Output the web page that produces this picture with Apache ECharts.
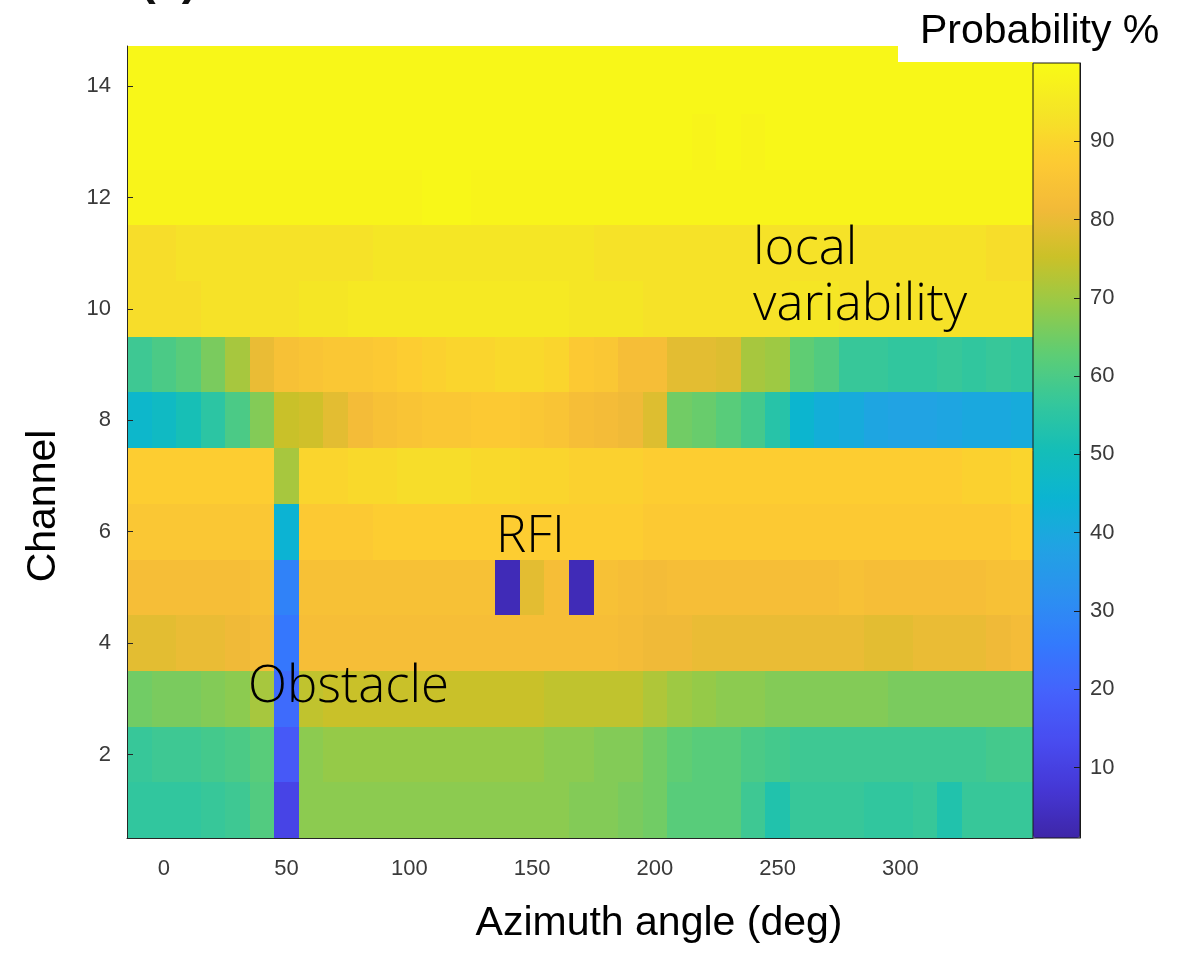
<!DOCTYPE html>
<html>
<head>
<meta charset="utf-8">
<script src="https://cdn.jsdelivr.net/npm/echarts@6/dist/echarts.min.js"></script>
<style>
  html, body { margin: 0; padding: 0; background: #ffffff; }
  #chart { width: 1195px; height: 953px; }
</style>
</head>
<body>
<div id="chart"></div>
<script>
// Azimuth bin centres (deg), 10-degree bins
const azimuth = [-10, 0, 10, 20, 30, 40, 50, 60, 70, 80, 90, 100, 110, 120, 130, 140, 150, 160, 170,
                 180, 190, 200, 210, 220, 230, 240, 250, 260, 270, 280, 290, 300, 310, 320, 330, 340, 350];
const channels = [1, 2, 3, 4, 5, 6, 7, 8, 9, 10, 11, 12, 13, 14];

// Detection probability (%) per channel, one value per azimuth bin
const ch01 = [56,56,56,57,58,61,11,68,68,68,68,68,68,68,68,68,68,68,67,67,66,65,62,62,62,58,53,57,57,57,56,56,57,53,57,57,57];
const ch02 = [57,58,58,59,60,62,17,68,69,69,69,69,69,69,69,69,69,68,68,67,67,65,63,62,62,60,59,58,58,58,58,58,58,58,58,59,59];
const ch03 = [65,66,66,67,68,71,22,74,75,75,75,75,75,75,75,75,75,74,74,74,74,72,70,69,68,68,67,67,67,67,67,66,66,66,66,66,66];
const ch04 = [79,79,80,80,81,82,25,83,83,83,83,83,83,83,83,83,83,83,83,83,82,81,81,80,80,80,80,80,80,80,79,79,80,80,80,81,82];
const ch05 = [83,83,83,83,83,84,28,84,84,84,84,84,84,84,84,3,79,83,3,84,83,82,83,83,83,83,83,83,83,84,83,83,83,83,83,84,84];
const ch06 = [86,86,86,86,86,86,44,87,87,87,88,88,88,88,88,88,88,88,88,88,88,87,87,87,87,87,87,87,87,87,87,87,87,87,87,87,88];
const ch07 = [88,88,88,88,88,88,71,90,90,91,91,92,92,92,91,91,90,90,89,89,89,88,88,88,88,88,88,88,88,88,88,88,88,88,89,89,90];
const ch08 = [46,48,51,55,60,67,75,76,79,82,84,85,86,86,87,87,86,85,83,82,81,78,65,64,62,59,54,45,42,41,39,38,38,39,40,40,41];
const ch09 = [58,60,62,66,71,80,84,85,86,86,87,88,89,90,90,91,91,90,87,86,83,83,79,79,78,71,70,63,61,57,57,56,56,57,56,57,56];
const ch10 = [92,92,92,93,93,93,93,94,94,95,95,95,95,95,95,95,95,95,94,94,94,93,93,93,93,93,93,94,94,93,93,93,93,93,93,93,93];
const ch11 = [92,92,93,93,93,93,93,93,93,93,94,94,94,94,94,94,94,94,94,93,93,93,93,93,93,93,93,93,93,93,93,93,93,93,93,92,92];
const ch12 = [98,98,98,98,98,98,98,98,98,98,98,98,99,99,98,98,98,98,98,98,98,98,98,98,98,98,98,98,98,98,98,98,98,98,98,98,98];
const ch13 = [99,99,99,99,99,99,99,99,99,99,99,99,99,99,99,99,99,99,99,99,99,99,99,98,99,98,99,99,99,99,99,99,99,99,99,99,99];
const ch14 = [99,99,99,99,99,99,99,99,99,99,99,99,99,99,99,99,99,99,99,99,99,99,99,99,99,99,99,99,99,99,99,99,99,99,99,99,99];
const probabilityRows = [ch01, ch02, ch03, ch04, ch05, ch06, ch07, ch08, ch09, ch10, ch11, ch12, ch13, ch14];

const xTicks = [0, 50, 100, 150, 200, 250, 300];
const yTicks = [2, 4, 6, 8, 10, 12, 14];
const colorbarTicks = [10, 20, 30, 40, 50, 60, 70, 80, 90];

// parula colour map
const parula = ['#3E26A8', '#4537D5', '#484CF0', '#4562FC', '#337AFD', '#2C90F0', '#21A3E3', '#0BB4D2',
                '#14BEB8', '#35C79B', '#5ECD74', '#96CA48', '#CBC128', '#F3BA39', '#FDCB32', '#F5E526', '#F9FB15'];

const cells = [];
channels.forEach((ch, i) => {
  probabilityRows[i].forEach((v, j) => cells.push([azimuth[j], ch, v]));
});

const binHalf = 5;
const topChannel = channels[channels.length - 1];

function renderCell(params, api) {
  const az = api.value(0);
  const ch = api.value(1);
  const cs = params.coordSys;
  const a = api.coord([az - binHalf, ch + 0.5]);
  const b = api.coord([az + binHalf, ch - 0.5]);
  const left = Math.max(Math.round(a[0]), cs.x);
  const right = Math.min(Math.round(b[0]), cs.x + cs.width);
  // the highest channel fills the plot up to its top edge
  const top = ch === topChannel ? cs.y : Math.round(a[1]);
  const bottom = Math.round(b[1]);
  return {
    type: 'rect',
    shape: { x: left, y: top, width: right - left, height: bottom - top },
    style: { fill: api.visual('color') }
  };
}

const tickFont = { fontFamily: 'Liberation Sans, Arial, sans-serif', fontSize: 22, color: '#3a3a3a' };
const noteFont = '300 51px Open Sans, Noto Sans, sans-serif';
const titleFont = '41px Liberation Sans, Arial, sans-serif';

const chart = echarts.init(document.getElementById('chart'), null, { renderer: 'canvas' });
chart.setOption({
  animation: false,
  backgroundColor: '#ffffff',
  grid: [
    { left: 127, top: 46, width: 906, height: 792, containLabel: false },
    { left: 1033, top: 63, width: 47, height: 775, show: true, backgroundColor: 'transparent',
      borderColor: '#1a1a1a', borderWidth: 1, z: 5 }
  ],
  xAxis: [
    {
      type: 'value', gridIndex: 0, min: -15, max: 354, z: 10,
      axisLine: { show: true, onZero: false, lineStyle: { color: '#262626', width: 1 } },
      axisTick: { show: false },
      splitLine: { show: false },
      axisLabel: Object.assign({ customValues: xTicks, margin: 20 }, tickFont)
    },
    { type: 'value', gridIndex: 1, min: 0, max: 1, show: false }
  ],
  yAxis: [
    {
      type: 'value', gridIndex: 0, min: 0.5, max: 14.72, z: 10,
      axisLine: { show: true, onZero: false, lineStyle: { color: '#262626', width: 1 } },
      axisTick: { show: true, inside: true, length: 6, customValues: yTicks, lineStyle: { color: '#262626' } },
      splitLine: { show: false },
      axisLabel: Object.assign({ customValues: yTicks, margin: 16 }, tickFont)
    },
    {
      type: 'value', gridIndex: 1, min: 1, max: 100, position: 'right', z: 10,
      axisLine: { show: true, onZero: false, lineStyle: { color: '#1a1a1a', width: 1 } },
      axisTick: { show: true, inside: true, length: 6, customValues: colorbarTicks, lineStyle: { color: '#1a1a1a' } },
      splitLine: { show: false },
      axisLabel: Object.assign({ customValues: colorbarTicks, margin: 10 }, tickFont)
    }
  ],
  visualMap: {
    type: 'continuous', min: 1, max: 100, dimension: 2, seriesIndex: 0,
    orient: 'vertical', left: 1033, top: 63, itemWidth: 47, itemHeight: 775,
    padding: 0, calculable: false, hoverLink: false, text: null, z: 1,
    inRange: { color: parula }
  },
  series: [
    {
      type: 'custom', name: 'Probability', coordinateSystem: 'cartesian2d',
      xAxisIndex: 0, yAxisIndex: 0, silent: true, clip: true,
      renderItem: renderCell,
      encode: { x: 0, y: 1 },
      data: cells
    }
  ],
  graphic: [
    { type: 'text', left: 140, top: -42, z: 20,
      style: { text: '(c)', font: 'bold 47px Liberation Sans, Arial, sans-serif', fill: '#111' } },
    { type: 'rect', shape: { x: 898, y: 0, width: 297, height: 62 }, z: 20,
      style: { fill: '#ffffff' } },
    { type: 'text', x: 920, y: 32, z: 21,
      style: { text: 'Probability %', font: titleFont, fill: '#000', verticalAlign: 'middle', align: 'left' } },
    { type: 'text', x: 659, y: 924, z: 21,
      style: { text: 'Azimuth angle (deg)', font: titleFont, fill: '#000', verticalAlign: 'middle', align: 'center' } },
    { type: 'text', x: 44, y: 506, rotation: Math.PI / 2, z: 21,
      style: { text: 'Channel', font: titleFont, fill: '#000', verticalAlign: 'middle', align: 'center' } },
    { type: 'text', x: 753, y: 249, z: 21,
      style: { text: 'local', font: noteFont, fill: '#000', verticalAlign: 'middle', align: 'left' } },
    { type: 'text', x: 753, y: 305, z: 21,
      style: { text: 'variability', font: noteFont, fill: '#000', verticalAlign: 'middle', align: 'left' } },
    { type: 'text', x: 496, y: 537, z: 21,
      style: { text: 'RFI', font: noteFont, fill: '#000', verticalAlign: 'middle', align: 'left' } },
    { type: 'text', x: 248, y: 687, z: 21,
      style: { text: 'Obstacle', font: noteFont, fill: '#000', verticalAlign: 'middle', align: 'left' } }
  ]
});
</script>
</body>
</html>
